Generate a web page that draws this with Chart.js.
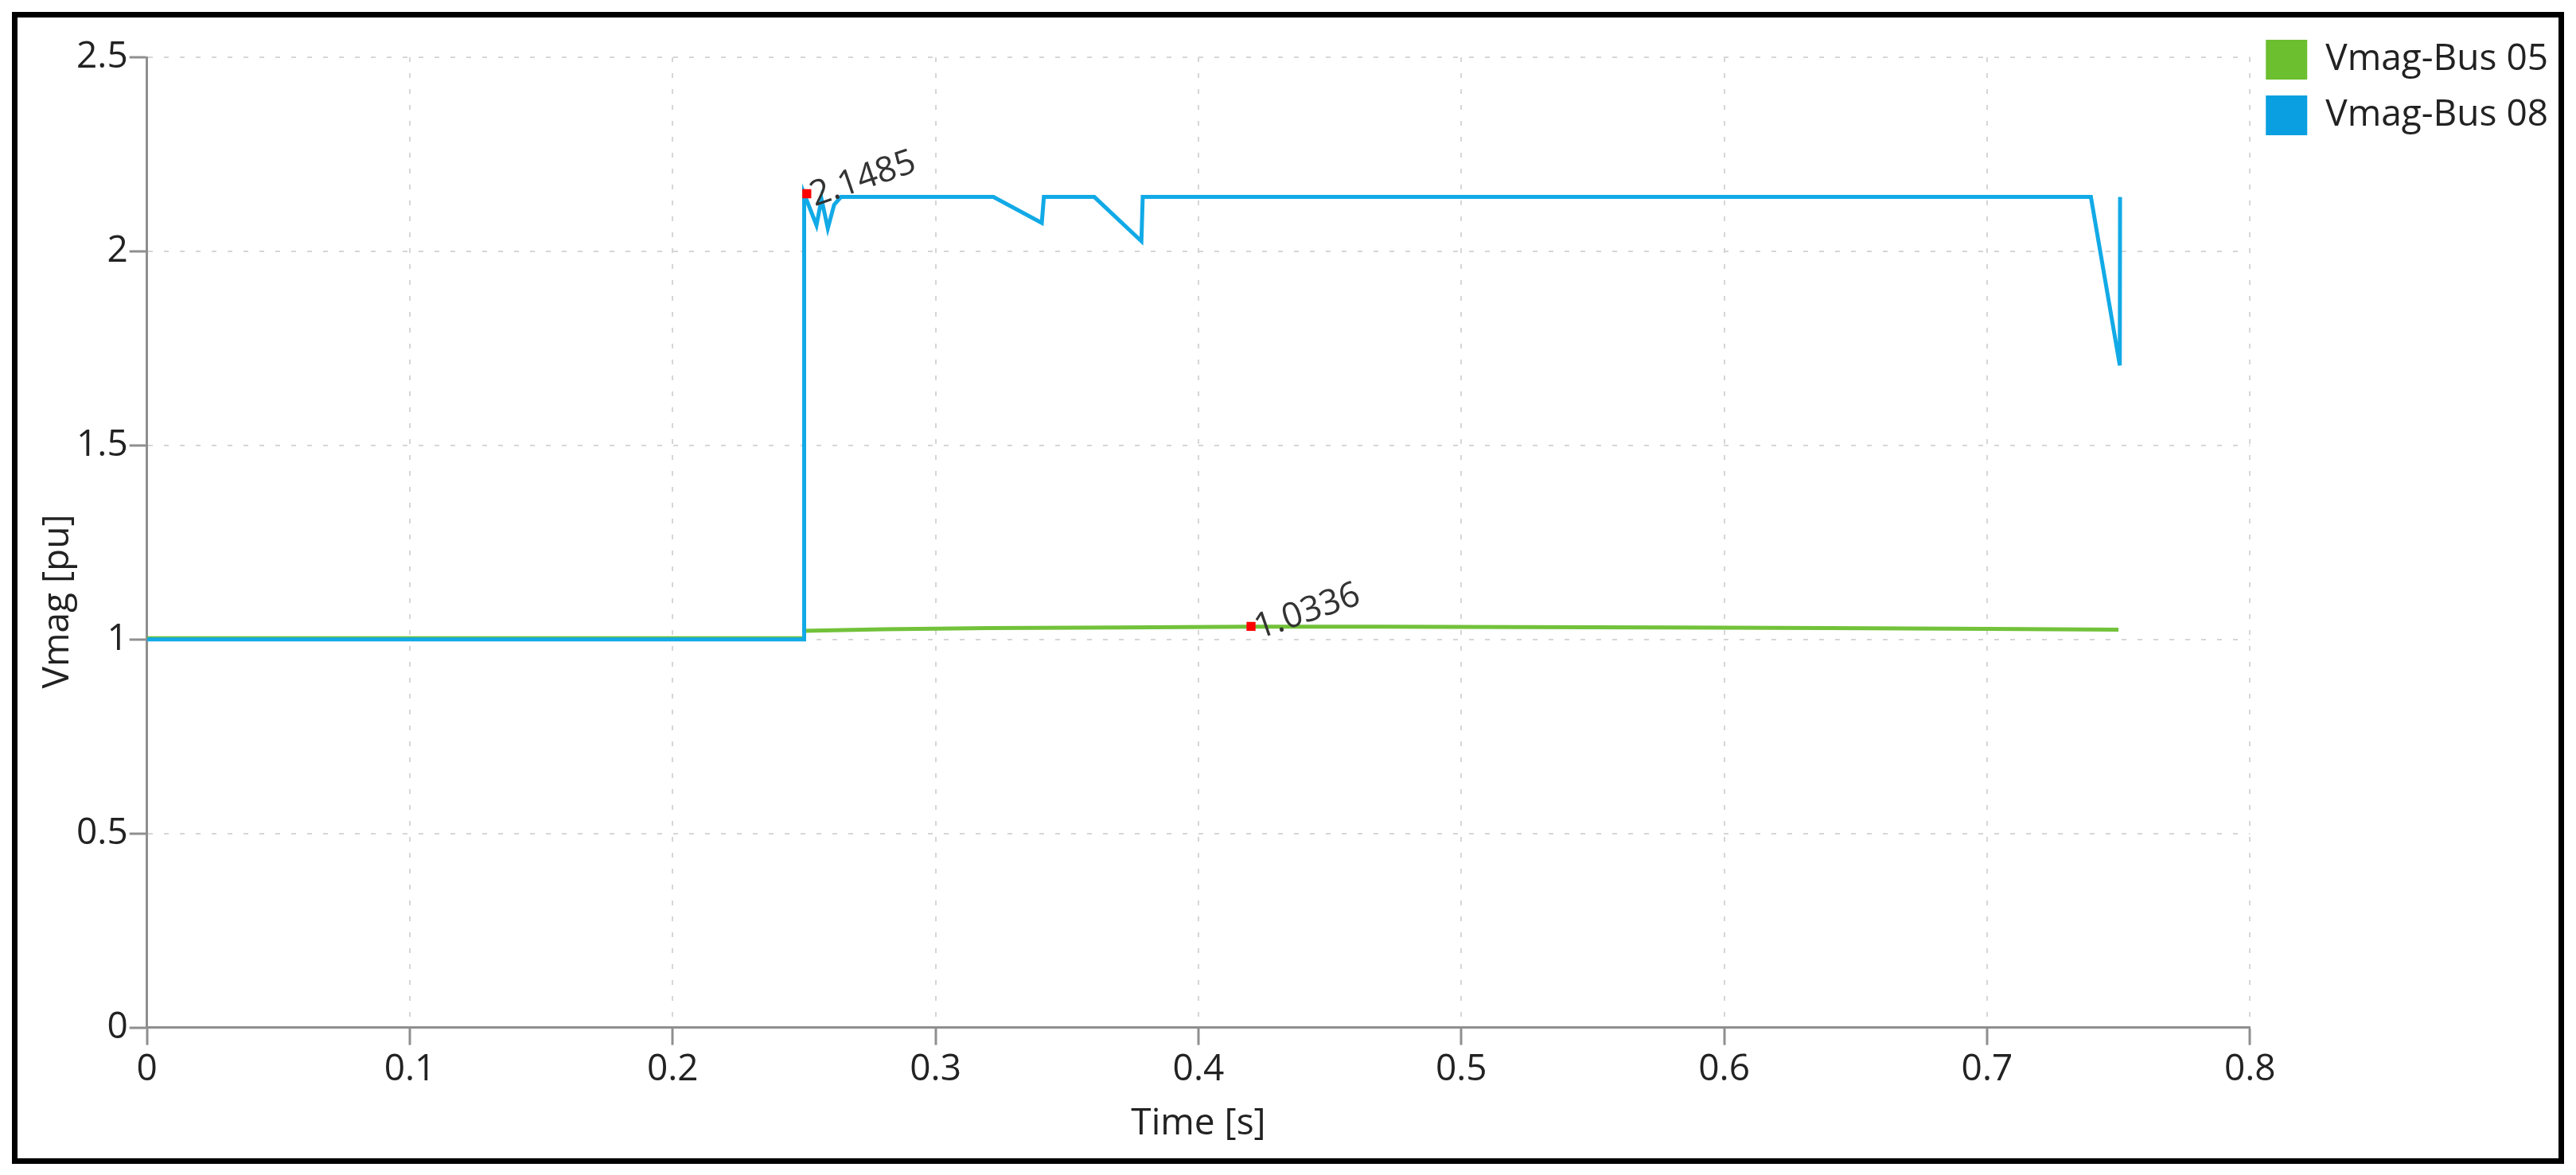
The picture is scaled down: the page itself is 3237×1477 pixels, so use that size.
<!DOCTYPE html>
<html>
<head>
<meta charset="utf-8">
<script src="https://cdn.jsdelivr.net/npm/chart.js@4.4.1/dist/chart.umd.min.js"></script>
<style>
  html, body { margin: 0; padding: 0; background: #fff; }
  #frame {
    position: absolute; left: 15px; top: 15px;
    width: 3207px; height: 1448px;
    border: 7px solid #000; box-sizing: border-box;
  }
  #frame canvas { display: block; }
</style>
</head>
<body>
<div id="frame"><canvas id="chart" width="3193" height="1434"></canvas></div>
<script>
// Vmag-Bus 05 (green)
var time05 = [0, 0.25, 0.25, 0.28, 0.32, 0.37, 0.42, 0.47, 0.52, 0.58, 0.64, 0.70, 0.75];
var vmag05 = [1.003, 1.003, 1.022, 1.026, 1.029, 1.031, 1.033, 1.033, 1.032, 1.031, 1.029, 1.027, 1.025];

// Vmag-Bus 08 (blue)
var time08 = [0, 0.25, 0.25, 0.2547, 0.2566, 0.259, 0.2614, 0.264, 0.322, 0.3404, 0.3412,
  0.3604, 0.3783, 0.3788, 0.7395, 0.7505, 0.7506];
var vmag08 = [1.0, 1.0, 2.1485, 2.067, 2.135, 2.059, 2.12, 2.14, 2.14, 2.073, 2.14,
  2.14, 2.026, 2.14, 2.14, 1.706, 2.14];

// red markers with their value labels
var markerTime = [0.251, 0.42];
var markerValue = [2.1485, 1.0336];
var markerText = ["2.1485", "1.0336"];

var xTicks = [0, 0.1, 0.2, 0.3, 0.4, 0.5, 0.6, 0.7, 0.8];
var yTicks = [0, 0.5, 1, 1.5, 2, 2.5];

function toPoints(xs, ys) {
  return xs.map(function (x, i) { return { x: x, y: ys[i] }; });
}

Chart.defaults.font.family = "'Open Sans', 'Noto Sans', sans-serif";
Chart.defaults.font.size = 46;
Chart.defaults.color = "#222";

var axisColor = "#8f8f8f";
var gridColor = "#d6d6d6";

// rotated value labels next to red markers + y title
var textPlugin = {
  id: "texts",
  afterDatasetsDraw: function (chart) {
    var ctx = chart.ctx;
    var meta = chart.getDatasetMeta(2);
    ctx.save();
    ctx.fillStyle = "#333";
    ctx.font = "44px 'Open Sans', 'Noto Sans', sans-serif";
    ctx.textAlign = "left";
    ctx.textBaseline = "alphabetic";
    meta.data.forEach(function (pt, i) {
      ctx.save();
      ctx.translate(pt.x + 10, pt.y + 16);
      ctx.rotate(-19 * Math.PI / 180);
      ctx.fillText(markerText[i], 0, 0);
      ctx.restore();
    });
    ctx.restore();
  },
  afterDraw: function (chart) {
    var ctx = chart.ctx;
    var area = chart.chartArea;
    var yc = (area.top + chart.scales.x.bottom) / 2;
    ctx.save();
    ctx.fillStyle = "#222";
    ctx.font = "46px 'Open Sans', 'Noto Sans', sans-serif";
    ctx.textAlign = "center";
    ctx.textBaseline = "middle";
    ctx.translate(area.left - 112, yc);
    ctx.rotate(-Math.PI / 2);
    ctx.fillText("Vmag [pu]", 0, 0);
    ctx.restore();
  }
};

var ctx = document.getElementById("chart").getContext("2d");
var myChart = new Chart(ctx, {
  type: "line",
  data: {
    datasets: [
      {
        label: "Vmag-Bus 05",
        data: toPoints(time05, vmag05),
        xAxisID: "x", yAxisID: "y",
        borderColor: "#72c23a",
        backgroundColor: "#6cbf2f",
        borderWidth: 5,
        pointRadius: 0,
        order: 2,
      },
      {
        label: "Vmag-Bus 08",
        data: toPoints(time08, vmag08),
        xAxisID: "x", yAxisID: "y",
        borderColor: "#12aae6",
        backgroundColor: "#0a9fe0",
        borderWidth: 5,
        pointRadius: 0,
        order: 1,
      },
      {
        label: "markers",
        data: toPoints(markerTime, markerValue),
        xAxisID: "x", yAxisID: "y",
        showLine: false,
        pointStyle: "rect",
        pointRadius: 8,
        borderWidth: 0,
        backgroundColor: "#ff0000",
        borderColor: "#ff0000",
        order: 0,
      },
    ],
  },
  options: {
    responsive: false,
    animation: false,
    events: [],
    layout: { padding: { top: 8, left: 72, right: 3, bottom: 16 } },
    scales: {
      x: {
        type: "linear",
        min: 0,
        max: 0.8,
        afterBuildTicks: function (scale) {
          scale.ticks = xTicks.map(function (v) { return { value: v }; });
        },
        ticks: {
          autoSkip: false,
          maxRotation: 0,
          padding: 4,
          color: "#222",
          callback: function (v) { return String(v); },
        },
        grid: {
          color: gridColor,
          lineWidth: 2,
          tickLength: 22,
          tickColor: axisColor,
          tickWidth: 3,
        },
        border: { color: axisColor, width: 3, dash: [6, 14] },
        title: {
          display: true,
          text: "Time [s]",
          color: "#222",
          padding: { top: 8, bottom: 0 },
        },
      },
      y: {
        type: "linear",
        min: 0,
        max: 2.5,
        afterBuildTicks: function (scale) {
          scale.ticks = yTicks.map(function (v) { return { value: v }; });
        },
        ticks: {
          padding: 2,
          color: "#222",
          callback: function (v) { return String(v); },
        },
        grid: {
          color: gridColor,
          lineWidth: 2,
          tickLength: 22,
          tickColor: axisColor,
          tickWidth: 3,
        },
        border: { color: axisColor, width: 3, dash: [6, 14] },
      },
      x2: {
        type: "linear",
        position: "top",
        display: true,
        grid: { display: false },
        border: { display: false },
        ticks: { display: false },
        afterFit: function (scale) { scale.height = 42; },
      },
    },
    plugins: {
      tooltip: { enabled: false },
      legend: {
        position: "right",
        align: "start",
        labels: {
          boxWidth: 52,
          boxHeight: 50,
          padding: 20,
          color: "#222",
          font: { size: 46 },
          generateLabels: function (chart) {
            return chart.data.datasets.slice(0, 2).map(function (ds, i) {
              return {
                text: ds.label,
                fillStyle: ds.backgroundColor,
                strokeStyle: ds.backgroundColor,
                lineWidth: 0,
                hidden: false,
                datasetIndex: i,
                fontColor: "#222",
              };
            });
          },
        },
      },
    },
  },
  plugins: [textPlugin],
});
</script>
</body>
</html>
